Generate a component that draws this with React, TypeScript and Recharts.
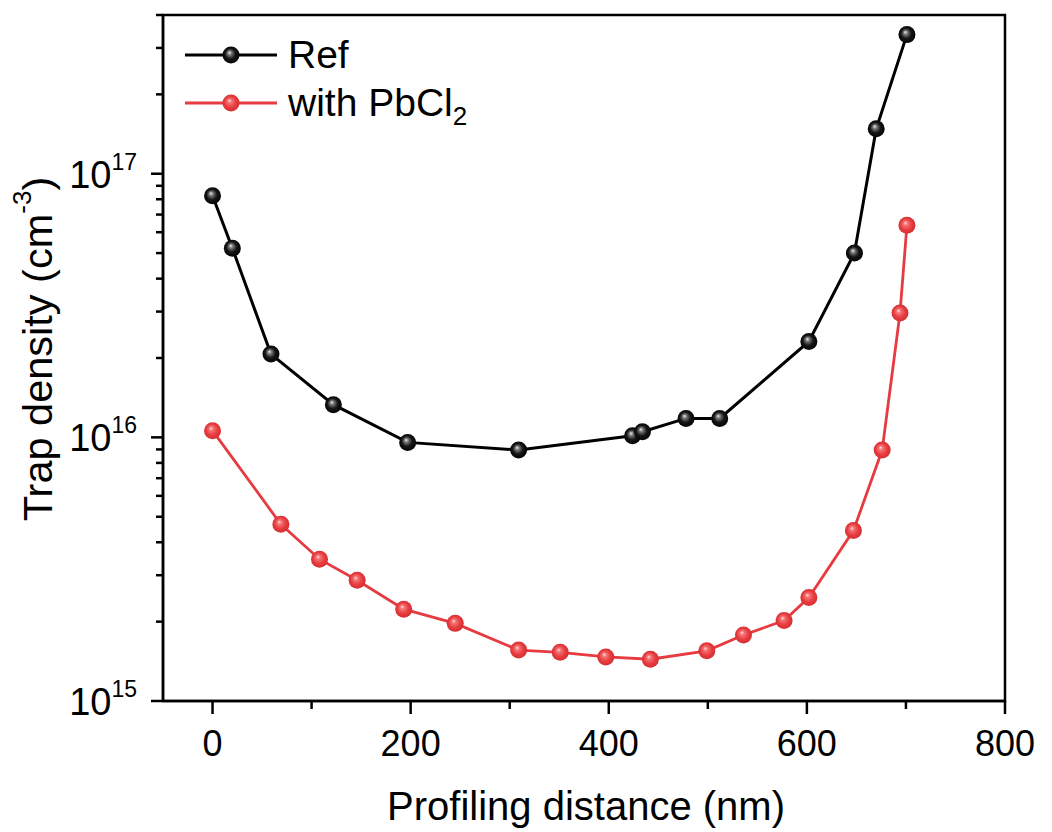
import React from 'react'
import {
  LineChart,
  Line,
  XAxis,
  YAxis,
  Legend,
  ReferenceArea,
} from 'recharts'

// profiling distance (nm) and trap density (cm^-3)
const refX = [0, 20, 59, 122, 197, 309, 424, 434, 478, 512, 602, 648, 670, 701]
const refY = [
  8.25e16, 5.22e16, 2.07e16, 1.33e16, 9.57e15, 8.95e15, 1.014e16, 1.05e16,
  1.18e16, 1.18e16, 2.31e16, 5.0e16, 1.48e17, 3.37e17,
]

const pbX = [0, 69, 108, 146, 193, 245, 309, 351, 397, 442, 499, 536, 577, 602, 647, 676, 694, 701]
const pbY = [
  1.06e16, 4.68e15, 3.45e15, 2.87e15, 2.23e15, 1.97e15, 1.56e15, 1.53e15,
  1.47e15, 1.44e15, 1.55e15, 1.78e15, 2.02e15, 2.47e15, 4.43e15, 8.95e15,
  2.96e16, 6.37e16,
]

const xTicks = [0, 100, 200, 300, 400, 500, 600, 700, 800]
const xLabels = [0, 200, 400, 600, 800]
const yTicks = [
  1e15, 2e15, 3e15, 4e15, 5e15, 6e15, 7e15, 8e15, 9e15,
  1e16, 2e16, 3e16, 4e16, 5e16, 6e16, 7e16, 8e16, 9e16,
  1e17, 2e17, 3e17, 4e17,
]

const refData = refX.map((x, i) => ({ x, y: refY[i] }))
const pbData = pbX.map((x, i) => ({ x, y: pbY[i] }))

const FONT = '"Liberation Sans", Arial, sans-serif'
const RED = '#e63b40'

const Gradients = ({ suffix = '' }: { suffix?: string }) => (
  <defs>
    <radialGradient id={`ballBlack${suffix}`} cx="50%" cy="50%" r="55%" fx="40%" fy="35%">
      <stop offset="0%" stopColor="#eeeeee" />
      <stop offset="22%" stopColor="#777777" />
      <stop offset="55%" stopColor="#161616" />
      <stop offset="100%" stopColor="#000000" />
    </radialGradient>
    <radialGradient id={`ballRed${suffix}`} cx="50%" cy="50%" r="55%" fx="40%" fy="35%">
      <stop offset="0%" stopColor="#ffe0e0" />
      <stop offset="22%" stopColor="#f47474" />
      <stop offset="60%" stopColor="#e83c40" />
      <stop offset="100%" stopColor="#cf2c30" />
    </radialGradient>
  </defs>
)

const makeDot = (grad: string) => (props: any) => {
  const { cx, cy, index } = props
  if (cx == null || cy == null) return <g key={`e-${index}`} />
  return <circle key={`d-${grad}-${index}`} cx={cx} cy={cy} r={8.5} fill={`url(#${grad})`} />
}

const YTick = ({ x, y, payload }: any) => {
  const e = Math.log10(payload.value)
  const major = Math.abs(e - Math.round(e)) < 1e-6 && payload.value < 3e17
  return (
    <g>
      <line x1={x} x2={x - (major ? 12 : 7)} y1={y} y2={y} stroke="#000" strokeWidth={2.5} />
      {major && (
        <text x={x - 26} y={y + 14} textAnchor="end" fontSize={38} fontFamily={FONT} fill="#000">
          10
          <tspan dy={-18} fontSize={23}>{Math.round(e)}</tspan>
        </text>
      )}
    </g>
  )
}

const XTick = ({ x, y, payload }: any) => {
  const major = xLabels.includes(payload.value)
  return (
    <g>
      <line x1={x} x2={x} y1={y} y2={y + (major ? 13 : 8)} stroke="#000" strokeWidth={2.5} />
      {major && (
        <text x={x} y={y + 55} textAnchor="middle" fontSize={36} fontFamily={FONT} fill="#000">
          {payload.value}
        </text>
      )}
    </g>
  )
}

const XTitle = ({ viewBox }: any) => (
  <text
    x={viewBox.x + viewBox.width / 2 + 2}
    y={viewBox.y + 119}
    textAnchor="middle"
    fontSize={40}
    fontFamily={FONT}
    fill="#000"
  >
    Profiling distance (nm)
  </text>
)

const YTitle = ({ viewBox }: any) => {
  const cx = viewBox.x + 37
  const cy = viewBox.y + viewBox.height / 2 - 9
  return (
    <text
      x={cx}
      y={cy}
      transform={`rotate(-90, ${cx}, ${cy})`}
      textAnchor="middle"
      dominantBaseline="central"
      fontSize={41.5}
      fontFamily={FONT}
      fill="#000"
    >
      Trap density (cm
      <tspan dy={-15} fontSize={26}>-3</tspan>
      <tspan dy={15}>)</tspan>
    </text>
  )
}

const LegendContent = ({ payload }: any) => (
  <svg width={420} height={125} style={{ display: 'block' }}>
    <Gradients suffix="L" />
    {(payload || []).map((item: any, i: number) => {
      const y = 37 + i * 48
      const grad = item.color === RED ? 'ballRedL' : 'ballBlackL'
      return (
        <g key={item.value}>
          <line x1={7} x2={99} y1={y} y2={y} stroke={item.color} strokeWidth={3} />
          <circle cx={53} cy={y} r={8.5} fill={`url(#${grad})`} />
          <text x={110} y={y + 13} fontSize={39} fontFamily={FONT} fill="#000">
            {i === 0 ? (
              'Ref'
            ) : (
              <>
                with PbCl
                <tspan dy={9} fontSize={26}>2</tspan>
              </>
            )}
          </text>
        </g>
      )
    })}
  </svg>
)

export default function App() {
  return (
    <div style={{ position: 'absolute', top: 0, left: 0, width: 1052, height: 832, fontFamily: FONT }}>
      <LineChart
        width={1052}
        height={832}
        margin={{ top: 15, right: 47, left: 0, bottom: 31 }}
      >
        <Gradients />
        <XAxis
          dataKey="x"
          type="number"
          domain={[-50, 800]}
          ticks={xTicks}
          interval={0}
          allowDataOverflow
          height={100}
          tickLine={false}
          tickSize={0}
          tickMargin={0}
          tick={<XTick />}
          axisLine={{ stroke: '#000', strokeWidth: 2.5 }}
          label={<XTitle />}
        />
        <YAxis
          dataKey="y"
          type="number"
          scale="log"
          domain={[1e15, 4e17]}
          ticks={yTicks}
          interval={0}
          allowDataOverflow
          width={163}
          tickLine={false}
          tickSize={0}
          tickMargin={0}
          tick={<YTick />}
          axisLine={{ stroke: '#000', strokeWidth: 2.5 }}
          label={<YTitle />}
        />
        <ReferenceArea
          x1={-50}
          x2={800}
          y1={1e15}
          y2={4e17}
          fill="none"
          stroke="#000"
          strokeWidth={2.5}
          ifOverflow="visible"
        />
        <Legend
          layout="horizontal"
          verticalAlign="middle"
          align="center"
          wrapperStyle={{ top: 18, left: 178, width: 420, height: 125 }}
          content={<LegendContent />}
        />
        <Line
          data={refData}
          dataKey="y"
          name="Ref"
          stroke="#000"
          strokeWidth={3}
          dot={makeDot('ballBlack')}
          activeDot={false}
          isAnimationActive={false}
        />
        <Line
          data={pbData}
          dataKey="y"
          name="with PbCl2"
          stroke={RED}
          strokeWidth={2.8}
          dot={makeDot('ballRed')}
          activeDot={false}
          isAnimationActive={false}
        />
      </LineChart>
    </div>
  )
}
